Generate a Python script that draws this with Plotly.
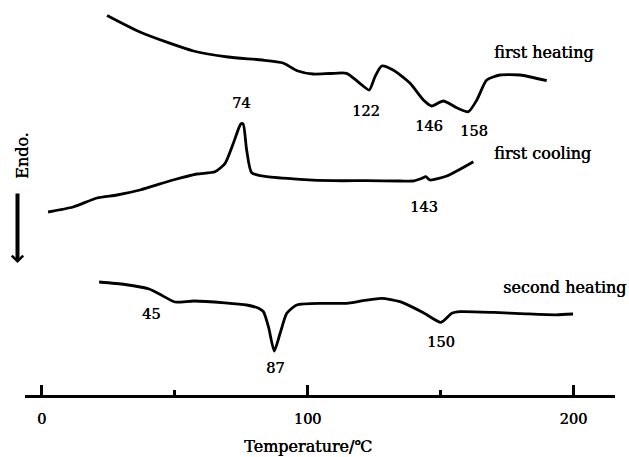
import plotly.graph_objects as go

# ---- data (temperature in degC, heat-flow signal in arbitrary units; endo down) ----
heat1_T = [24.6, 37.6, 57.1, 70.1, 82.9, 90.8, 96.1, 102.1, 108.5, 114.7, 119.7, 123.2,
           125.4, 127.9, 132.2, 138.6, 143.6, 146.7, 151.1, 156.1, 160.5, 163.7, 167.4,
           172.4, 180.0, 190.0]
heat1_S = [441.5, 424.2, 406, 400, 397, 394, 386.3, 383, 383.5, 383.7, 373.7, 367,
           380.3, 391, 387, 373.7, 357, 351, 356, 349.3, 345.3, 357, 377,
           382, 382, 376.3]

cool1_T = [2.4, 11.8, 20.8, 28.3, 37.0, 49.4, 58.4, 65.2, 69.0, 72.1, 74.9, 75.8,
           77.1, 79.0, 84.7, 97.2, 109.7, 122.3, 134.8, 139.8, 143.0, 144.5, 146.1,
           152.4, 162.4]
cool1_S = [245, 250, 259, 262, 267, 277, 283, 285.3, 293.7, 313.7, 333, 333,
           307, 284.3, 280.3, 277.7, 276.3, 276.3, 276, 276, 278.7, 280.3, 277,
           281, 295.3]

heat2_T = [21.6, 31.3, 40.4, 45.6, 50.1, 57.2, 68.9, 77.1, 81.4, 83.4, 85.3, 87.5,
           89.7, 92.2, 95.9, 105.9, 114.7, 121.0, 127.9, 134.8, 143.6, 150.2, 154.3,
           157.4, 170.1, 182.0, 193.5, 199.9]
heat2_S = [175, 172.5, 168, 161.1, 155, 156, 154.2, 152, 149, 145.3, 130.3, 106,
           123.7, 143.7, 152, 153.7, 153.7, 156.3, 158.7, 155.3, 144.3, 134.7, 143.7,
           145.3, 144.6, 143.2, 142.2, 143]

# peak labels: (text, T, signal)
peak_labels = [("122", 122.0, 346), ("146", 145.7, 331), ("158", 162.6, 326),
               ("74", 75.0, 354), ("143", 143.8, 250),
               ("45", 41.1, 143), ("87", 87.8, 89), ("150", 150.2, 115)]
curve_labels = [("first heating", 169.4, 405), ("first cooling", 169.4, 304),
                ("second heating", 172.8, 170)]
tick_vals = [0, 100, 200]
tick_text = ["0", "100", "200"]

FONT = "DejaVu Serif"
SHADOW = "0.5px 0px 0px black"
W, H = 629, 457

fig = go.Figure()
for T, S in [(heat1_T, heat1_S), (cool1_T, cool1_S), (heat2_T, heat2_S)]:
    fig.add_trace(go.Scatter(x=T, y=S, mode="lines",
                             line=dict(color="black", width=2.8, shape="spline", smoothing=0.6),
                             showlegend=False, hoverinfo="skip"))

ann = []
for t, x, y in peak_labels:
    ann.append(dict(text=t, x=x, y=y, xref="x", yref="y", showarrow=False,
                    font=dict(family=FONT, size=14.5, color="black", shadow=SHADOW),
                    xanchor="center", yanchor="middle"))
for t, x, y in curve_labels:
    ann.append(dict(text=t, x=x, y=y, xref="x", yref="y", showarrow=False,
                    font=dict(family=FONT, size=16, color="black", shadow=SHADOW),
                    xanchor="left", yanchor="middle"))
# axis title
ann.append(dict(text="Temperature/℃", x=100, y=11, xref="x", yref="y", showarrow=False,
                font=dict(family=FONT, size=16, color="black", shadow=SHADOW),
                xanchor="center", yanchor="middle"))
# Endo. label + arrow
ann.append(dict(text="Endo.", x=23 / W, y=1 - 156 / H, xref="paper", yref="paper",
                showarrow=False, textangle=-90,
                font=dict(family=FONT, size=16, color="black", shadow=SHADOW),
                xanchor="center", yanchor="middle"))
ann.append(dict(text="", x=17.5 / W, y=1 - 263 / H, xref="paper", yref="paper",
                ax=0, ay=-71, axref="pixel", ayref="pixel",
                showarrow=True, arrowhead=4, arrowsize=0.55, arrowwidth=4,
                arrowcolor="black"))

fig.update_layout(
    width=W, height=H,
    margin=dict(l=0, r=0, t=0, b=0),
    paper_bgcolor="white", plot_bgcolor="white",
    annotations=ann,
    xaxis=dict(domain=[25 / W, 615 / W], range=[-6.283, 215.68],
               anchor="free", position=(H - 395.5) / H,
               showline=True, linewidth=3, linecolor="black",
               showgrid=False, zeroline=False,
               ticks="inside", ticklen=10, tickwidth=3, tickcolor="black",
               tickvals=tick_vals, ticktext=tick_text,
               tickfont=dict(family=FONT, size=14.5, color="black", shadow=SHADOW),
               ticklabelstandoff=9,
               minor=dict(tickvals=[50, 150], ticks="inside", ticklen=5,
                          tickwidth=3, tickcolor="black", showgrid=False)),
    yaxis=dict(range=[0, H], domain=[0, 1], visible=False, fixedrange=True),
)

fig.write_html("out.html")
